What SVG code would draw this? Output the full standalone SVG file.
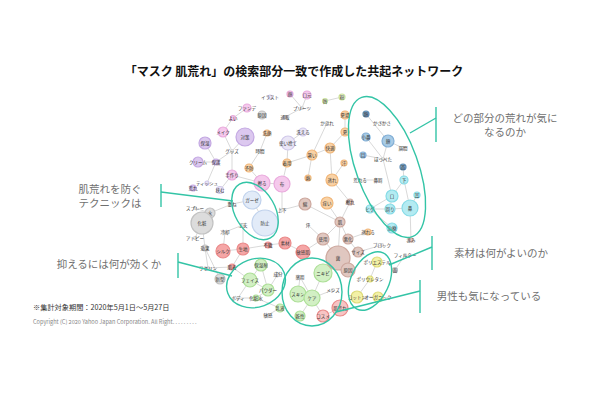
<svg xmlns="http://www.w3.org/2000/svg" width="600" height="400" viewBox="0 0 600 400">
<style>
.bg{fill:#fff}
.e line{stroke:#c8c8c8;stroke-width:0.7}
.n circle{stroke-width:1.2}
.pk{fill:#f5c9ec;stroke:#e9a9dc}
.pu{fill:#dcc8ef;stroke:#c3a8e2}
.lv{fill:#eae6f6;stroke:#d0c8ea}
.or{fill:#f9d2a6;stroke:#f1b77a}
.bl{fill:#a8cbe6;stroke:#82afd6}
.db{fill:#7fa6c8;stroke:#5f8db5}
.tl{fill:#b3ebf2;stroke:#86dbe6}
.lb{fill:#e2ebf8;stroke:#c0d2ec}
.gy{fill:#dcdcdc;stroke:#c2c2c2}
.rd{fill:#f5a6a6;stroke:#ea8a8a}
.br{fill:#e0c7c0;stroke:#cda89e}
.gn{fill:#d2f0c4;stroke:#addf97}
.yl{fill:#f3f1a6;stroke:#dedb78}
.lg{fill:#e9f3cf;stroke:#cde3a0}
.tx{fill:#eeeeee;stroke:#d4d4d4}
.n text{font-family:"Noto Sans CJK JP","Noto Sans",sans-serif;font-size:4.5px;fill:#333;text-anchor:middle}
.ann{font-family:"Noto Sans CJK JP","Noto Sans",sans-serif;font-size:10.5px;fill:#707070}
.tt{font-family:"Noto Sans CJK JP","Noto Sans",sans-serif;font-size:12px;font-weight:bold;fill:#111}
.ft{font-family:"Noto Sans CJK JP","Noto Sans",sans-serif;fill:#333}
.hl{fill:none;stroke:#33c4a6;stroke-width:1.4}
</style>
<rect class="bg" width="600" height="400"/>
<text class="tt" x="294" y="76" text-anchor="middle">「マスク 肌荒れ」の検索部分一致で作成した共起ネットワーク</text>

<g id="connectors" class="e">
<line x1="247" y1="108" x2="233" y2="118"/><line x1="233" y1="118" x2="223" y2="132"/>
<line x1="223" y1="132" x2="232" y2="151"/><line x1="245" y1="137" x2="232" y2="151"/>
<line x1="232" y1="151" x2="216" y2="162"/><line x1="216" y1="162" x2="198" y2="162"/>
<line x1="205" y1="143" x2="216" y2="162"/><line x1="232" y1="151" x2="232" y2="175"/>
<line x1="216" y1="162" x2="207" y2="183"/><line x1="232" y1="175" x2="262" y2="183"/>
<line x1="232" y1="175" x2="220" y2="190"/><line x1="262" y1="183" x2="282" y2="184"/>
<line x1="249" y1="168" x2="260" y2="151"/><line x1="260" y1="151" x2="267" y2="133"/>
<line x1="282" y1="184" x2="287" y2="163"/><line x1="262" y1="183" x2="249" y2="168"/>
<line x1="290" y1="94" x2="302" y2="108"/><line x1="307" y1="95" x2="302" y2="108"/>
<line x1="302" y1="108" x2="285" y2="117"/><line x1="325" y1="101" x2="342" y2="97"/>
<line x1="327" y1="123" x2="312" y2="155"/><line x1="345" y1="115" x2="345" y2="132"/>
<line x1="345" y1="132" x2="330" y2="148"/><line x1="330" y1="148" x2="312" y2="155"/>
<line x1="312" y1="155" x2="287" y2="163"/><line x1="287" y1="163" x2="288" y2="143"/>
<line x1="288" y1="143" x2="303" y2="132"/><line x1="312" y1="155" x2="308" y2="178"/>
<line x1="330" y1="148" x2="332" y2="180"/><line x1="332" y1="180" x2="344" y2="163"/>
<line x1="332" y1="180" x2="350" y2="202"/>
<line x1="366" y1="114" x2="388" y2="141"/><line x1="366" y1="137" x2="383" y2="159"/>
<line x1="388" y1="141" x2="403" y2="148"/><line x1="388" y1="141" x2="383" y2="159"/>
<line x1="363" y1="155" x2="383" y2="159"/><line x1="383" y1="159" x2="392" y2="196"/>
<line x1="403" y1="167" x2="404" y2="180"/><line x1="404" y1="180" x2="392" y2="196"/>
<line x1="404" y1="180" x2="410" y2="208"/><line x1="392" y1="196" x2="390" y2="209"/>
<line x1="392" y1="196" x2="370" y2="209"/><line x1="370" y1="209" x2="390" y2="209"/>
<line x1="390" y1="209" x2="410" y2="208"/><line x1="417" y1="195" x2="410" y2="208"/>
<line x1="410" y1="208" x2="411" y2="240"/><line x1="370" y1="209" x2="392" y2="228"/>
<line x1="360" y1="180" x2="378" y2="180"/>
<line x1="195" y1="208" x2="210" y2="213"/><line x1="210" y1="213" x2="202" y2="223"/>
<line x1="210" y1="213" x2="232" y2="204"/><line x1="232" y1="204" x2="252" y2="200"/>
<line x1="202" y1="223" x2="195" y2="238"/><line x1="202" y1="223" x2="205" y2="248"/>
<line x1="205" y1="248" x2="208" y2="268"/><line x1="205" y1="248" x2="220" y2="279"/>
<line x1="225" y1="232" x2="223" y2="251"/><line x1="225" y1="232" x2="243" y2="225"/>
<line x1="223" y1="251" x2="243" y2="249"/><line x1="243" y1="249" x2="243" y2="225"/>
<line x1="243" y1="249" x2="268" y2="245"/><line x1="268" y1="245" x2="285" y2="243"/>
<line x1="243" y1="249" x2="232" y2="267"/><line x1="232" y1="267" x2="208" y2="268"/>
<line x1="252" y1="200" x2="265" y2="223"/>
<line x1="261" y1="265" x2="250" y2="280"/><line x1="261" y1="265" x2="268" y2="290"/>
<line x1="278" y1="274" x2="268" y2="290"/><line x1="250" y1="280" x2="268" y2="290"/>
<line x1="250" y1="280" x2="238" y2="298"/><line x1="256" y1="298" x2="268" y2="290"/>
<line x1="256" y1="298" x2="238" y2="298"/><line x1="256" y1="298" x2="280" y2="308"/>
<line x1="280" y1="308" x2="268" y2="315"/><line x1="232" y1="267" x2="250" y2="280"/>
<line x1="300" y1="277" x2="298" y2="294"/><line x1="300" y1="277" x2="312" y2="298"/>
<line x1="323" y1="273" x2="312" y2="298"/><line x1="298" y1="294" x2="312" y2="298"/>
<line x1="312" y1="298" x2="333" y2="290"/><line x1="312" y1="298" x2="300" y2="316"/>
<line x1="312" y1="298" x2="323" y2="316"/><line x1="323" y1="316" x2="340" y2="308"/>
<line x1="282" y1="210" x2="305" y2="204"/><line x1="305" y1="204" x2="340" y2="222"/>
<line x1="340" y1="222" x2="350" y2="202"/><line x1="340" y1="222" x2="323" y2="239"/>
<line x1="340" y1="222" x2="338" y2="258"/><line x1="340" y1="222" x2="348" y2="239"/>
<line x1="348" y1="239" x2="358" y2="252"/><line x1="338" y1="258" x2="348" y2="270"/>
<line x1="358" y1="252" x2="382" y2="245"/><line x1="348" y1="239" x2="368" y2="232"/>
<line x1="323" y1="239" x2="338" y2="258"/><line x1="323" y1="239" x2="303" y2="252"/>
<line x1="285" y1="243" x2="303" y2="252"/><line x1="327" y1="203" x2="340" y2="222"/>
<line x1="282" y1="184" x2="282" y2="210"/><line x1="338" y1="258" x2="323" y2="273"/>
<line x1="377" y1="262" x2="370" y2="279"/><line x1="370" y1="279" x2="357" y2="297"/>
<line x1="357" y1="297" x2="378" y2="297"/><line x1="405" y1="255" x2="395" y2="270"/>
<line x1="308" y1="225" x2="323" y2="239"/>
</g>

<g id="nodes" class="n">
<g id="n1"><circle class="lv" cx="270" cy="97" r="2"/><text x="270" y="98.5">イラスト</text></g>
<g id="n2"><circle class="pk" cx="247" cy="108" r="4"/><text x="247" y="109.5">ファンデ</text></g>
<g id="n3"><circle class="gy" cx="262" cy="115" r="4"/><text x="262" y="116.5">原因</text></g>
<g id="n4"><circle class="pk" cx="233" cy="118" r="2.5"/><text x="233" y="119.5">よい</text></g>
<g id="n5"><circle class="pk" cx="223" cy="132" r="5"/><text x="223" y="133.5">メイク</text></g>
<g id="n6"><circle class="pu" cx="245" cy="137" r="9"/><text x="245" y="138.5">対策</text></g>
<g id="n7"><circle class="or" cx="267" cy="133" r="3"/><text x="267" y="134.5">洗顔</text></g>
<g id="n8"><circle class="pu" cx="205" cy="143" r="6"/><text x="205" y="144.5">保湿</text></g>
<g id="n9"><circle class="tx" cx="232" cy="151" r="1.5"/><text x="232" y="152.5">グッズ</text></g>
<g id="n10"><circle class="tx" cx="260" cy="151" r="1.5"/><text x="260" y="152.5">時間</text></g>
<g id="n11"><circle class="pu" cx="198" cy="162" r="5"/><text x="198" y="163.5">クリーム</text></g>
<g id="n12"><circle class="pu" cx="216" cy="162" r="3"/><text x="216" y="163.5">保護</text></g>
<g id="n13"><circle class="or" cx="249" cy="168" r="4"/><text x="249" y="169.5">予防</text></g>
<g id="n14"><circle class="pk" cx="232" cy="175" r="5"/><text x="232" y="176.5">手作り</text></g>
<g id="n15"><circle class="pk" cx="262" cy="183" r="8"/><text x="262" y="184.5">擦る</text></g>
<g id="n16"><circle class="pk" cx="282" cy="184" r="8"/><text x="282" y="185.5">布</text></g>
<g id="n17"><circle class="lv" cx="207" cy="183" r="2"/><text x="207" y="184.5">ティッシュ</text></g>
<g id="n18"><circle class="pu" cx="193" cy="188" r="3"/><text x="193" y="189.5">荒れ</text></g>
<g id="n19"><circle class="lv" cx="220" cy="190" r="3.5"/><text x="220" y="191.5">挟む</text></g>
<g id="n20"><circle class="pk" cx="290" cy="94" r="3"/><text x="290" y="95.5">顔</text></g>
<g id="n21"><circle class="pk" cx="307" cy="95" r="4"/><text x="307" y="96.5">口元</text></g>
<g id="n22"><circle class="tx" cx="302" cy="108" r="1.5"/><text x="302" y="109.5">プリーツ</text></g>
<g id="n23"><circle class="tx" cx="285" cy="117" r="1.5"/><text x="285" y="118.5">通販</text></g>
<g id="n24"><circle class="lg" cx="325" cy="101" r="2.5"/><text x="325" y="102.5">唇</text></g>
<g id="n25"><circle class="lg" cx="342" cy="97" r="3"/><text x="342" y="98.5">粉</text></g>
<g id="n26"><circle class="tx" cx="327" cy="123" r="1.5"/><text x="327" y="124.5">かぶれ</text></g>
<g id="n27"><circle class="or" cx="345" cy="115" r="4"/><text x="345" y="116.5">夏場</text></g>
<g id="n28"><circle class="lv" cx="303" cy="132" r="4"/><text x="303" y="133.5">洗える</text></g>
<g id="n29"><circle class="or" cx="345" cy="132" r="4"/><text x="345" y="133.5">夏</text></g>
<g id="n30"><circle class="lv" cx="288" cy="143" r="7"/><text x="288" y="144.5">使い捨て</text></g>
<g id="n31"><circle class="or" cx="330" cy="148" r="5"/><text x="330" y="149.5">快適</text></g>
<g id="n32"><circle class="or" cx="312" cy="155" r="5"/><text x="312" y="156.5">暑い</text></g>
<g id="n33"><circle class="or" cx="287" cy="163" r="4"/><text x="287" y="164.5">着用</text></g>
<g id="n34"><circle class="or" cx="344" cy="163" r="3"/><text x="344" y="164.5">汗</text></g>
<g id="n35"><circle class="or" cx="308" cy="178" r="3"/><text x="308" y="179.5">熱</text></g>
<g id="n36"><circle class="or" cx="332" cy="180" r="6"/><text x="332" y="181.5">蒸れ</text></g>
<g id="n37"><circle class="db" cx="366" cy="114" r="3"/><text x="366" y="115.5">額</text></g>
<g id="n38"><circle class="tx" cx="382" cy="123" r="1.5"/><text x="382" y="124.5">かさかさ</text></g>
<g id="n39"><circle class="bl" cx="366" cy="137" r="4"/><text x="366" y="138.5">小鼻</text></g>
<g id="n40"><circle class="bl" cx="388" cy="141" r="6"/><text x="388" y="142.5">頬</text></g>
<g id="n41"><circle class="tx" cx="403" cy="148" r="1.5"/><text x="403" y="149.5">眉間</text></g>
<g id="n42"><circle class="bl" cx="363" cy="155" r="3"/><text x="363" y="156.5">目</text></g>
<g id="n43"><circle class="tx" cx="383" cy="159" r="1.5"/><text x="383" y="160.5">ほっぺた</text></g>
<g id="n44"><circle class="db" cx="403" cy="167" r="3"/><text x="403" y="168.5">首</text></g>
<g id="n45"><circle class="tx" cx="360" cy="180" r="1.5"/><text x="360" y="181.5">荒れる</text></g>
<g id="n46"><circle class="tx" cx="378" cy="180" r="1.5"/><text x="378" y="181.5">鼻周</text></g>
<g id="n47"><circle class="tl" cx="404" cy="180" r="4"/><text x="404" y="181.5">下</text></g>
<g id="n48"><circle class="tl" cx="392" cy="196" r="6"/><text x="392" y="197.5">口</text></g>
<g id="n49"><circle class="tl" cx="417" cy="195" r="3"/><text x="417" y="196.5">耳</text></g>
<g id="n50"><circle class="tl" cx="370" cy="209" r="4"/><text x="370" y="210.5">ヒゲ</text></g>
<g id="n51"><circle class="tl" cx="390" cy="209" r="5"/><text x="390" y="210.5">周り</text></g>
<g id="n52"><circle class="tl" cx="410" cy="208" r="8"/><text x="410" y="209.5">鼻</text></g>
<g id="n53"><circle class="tl" cx="392" cy="228" r="5"/><text x="392" y="229.5">治療</text></g>
<g id="n54"><circle class="br" cx="411" cy="240" r="2"/><text x="411" y="241.5">赤み</text></g>
<g id="n55"><circle class="lb" cx="252" cy="200" r="9"/><text x="252" y="201.5">ガーゼ</text></g>
<g id="n56"><circle class="lb" cx="265" cy="223" r="13"/><text x="265" y="224.5">防止</text></g>
<g id="n57"><circle class="tx" cx="232" cy="204" r="1.5"/><text x="232" y="205.5">重ね</text></g>
<g id="n58"><circle class="tx" cx="195" cy="208" r="1.5"/><text x="195" y="209.5">スプレー</text></g>
<g id="n59"><circle class="gy" cx="210" cy="213" r="5"/><text x="210" y="214.5">水</text></g>
<g id="n60"><circle class="gy" cx="202" cy="223" r="11"/><text x="202" y="224.5">化粧</text></g>
<g id="n61"><circle class="tx" cx="243" cy="225" r="1.5"/><text x="243" y="226.5">工夫</text></g>
<g id="n62"><circle class="tx" cx="225" cy="232" r="1.5"/><text x="225" y="233.5">冷却</text></g>
<g id="n63"><circle class="tx" cx="195" cy="238" r="1.5"/><text x="195" y="239.5">アトピー</text></g>
<g id="n64"><circle class="gy" cx="205" cy="248" r="3"/><text x="205" y="249.5">効果</text></g>
<g id="n65"><circle class="rd" cx="223" cy="251" r="7"/><text x="223" y="252.5">シルク</text></g>
<g id="n66"><circle class="rd" cx="243" cy="249" r="6"/><text x="243" y="250.5">生地</text></g>
<g id="n67"><circle class="rd" cx="268" cy="245" r="3"/><text x="268" y="246.5">不織</text></g>
<g id="n68"><circle class="rd" cx="285" cy="243" r="6"/><text x="285" y="244.5">素材</text></g>
<g id="n69"><circle class="tx" cx="208" cy="268" r="1.5"/><text x="208" y="269.5">ワセリン</text></g>
<g id="n70"><circle class="rd" cx="232" cy="267" r="3"/><text x="232" y="268.5">肌着</text></g>
<g id="n71"><circle class="gy" cx="220" cy="279" r="5"/><text x="220" y="280.5">新型</text></g>
<g id="n72"><circle class="gn" cx="261" cy="265" r="6"/><text x="261" y="266.5">保湿剤</text></g>
<g id="n73"><circle class="tx" cx="278" cy="274" r="1.5"/><text x="278" y="275.5">成分</text></g>
<g id="n74"><circle class="gn" cx="250" cy="280" r="7"/><text x="250" y="281.5">フェイス</text></g>
<g id="n75"><circle class="gn" cx="268" cy="290" r="6"/><text x="268" y="291.5">パウダー</text></g>
<g id="n76"><circle class="tx" cx="238" cy="298" r="1.5"/><text x="238" y="299.5">ボディ</text></g>
<g id="n77"><circle class="gn" cx="256" cy="298" r="3"/><text x="256" y="299.5">化粧水</text></g>
<g id="n78"><circle class="gn" cx="280" cy="308" r="4"/><text x="280" y="309.5">乳液</text></g>
<g id="n79"><circle class="tx" cx="268" cy="315" r="1.5"/><text x="268" y="316.5">敏感</text></g>
<g id="n80"><circle class="tx" cx="300" cy="277" r="1.5"/><text x="300" y="278.5">薬用</text></g>
<g id="n81"><circle class="gn" cx="323" cy="273" r="9"/><text x="323" y="274.5">ニキビ</text></g>
<g id="n82"><circle class="gn" cx="298" cy="294" r="8"/><text x="298" y="295.5">スキン</text></g>
<g id="n83"><circle class="gn" cx="312" cy="298" r="8"/><text x="312" y="299.5">ケア</text></g>
<g id="n84"><circle class="tx" cx="333" cy="290" r="1.5"/><text x="333" y="291.5">メンズ</text></g>
<g id="n85"><circle class="gn" cx="300" cy="316" r="5"/><text x="300" y="317.5">乾性</text></g>
<g id="n86"><circle class="rd" cx="323" cy="316" r="6" style="fill:#f8c4c4"/><text x="323" y="317.5">コスメ</text></g>
<g id="n87"><circle class="rd" cx="340" cy="308" r="8" style="fill:#f8c4c4"/><text x="340" y="309.5">肌荒れ</text></g>
<g id="n88"><circle class="tx" cx="282" cy="210" r="1.5"/><text x="282" y="211.5">上下</text></g>
<g id="n89"><circle class="br" cx="305" cy="204" r="6"/><text x="305" y="205.5">綿</text></g>
<g id="n90"><circle class="or" cx="327" cy="203" r="6"/><text x="327" y="204.5">痒い</text></g>
<g id="n91"><circle class="br" cx="350" cy="202" r="3"/><text x="350" y="203.5">擦れ</text></g>
<g id="n92"><circle class="br" cx="340" cy="222" r="5"/><text x="340" y="223.5">肌</text></g>
<g id="n93"><circle class="tx" cx="308" cy="225" r="1.5"/><text x="308" y="226.5">汗</text></g>
<g id="n94"><circle class="or" cx="368" cy="232" r="3"/><text x="368" y="233.5">蒸れる</text></g>
<g id="n95"><circle class="br" cx="323" cy="239" r="6"/><text x="323" y="240.5">使用</text></g>
<g id="n96"><circle class="br" cx="348" cy="239" r="5"/><text x="348" y="240.5">悪化</text></g>
<g id="n97"><circle class="rd" cx="303" cy="252" r="7"/><text x="303" y="253.5">敏感肌</text></g>
<g id="n98"><circle class="br" cx="338" cy="258" r="12"/><text x="338" y="259.5">菌</text></g>
<g id="n99"><circle class="br" cx="358" cy="252" r="5"/><text x="358" y="253.5">サイズ</text></g>
<g id="n100"><circle class="br" cx="348" cy="270" r="7"/><text x="348" y="271.5">原因</text></g>
<g id="n101"><circle class="tx" cx="382" cy="245" r="1.5"/><text x="382" y="246.5">ブロック</text></g>
<g id="n102"><circle class="tx" cx="405" cy="255" r="1.5"/><text x="405" y="256.5">フィルター</text></g>
<g id="n103"><circle class="gy" cx="395" cy="270" r="2.5"/><text x="395" y="271.5">面</text></g>
<g id="n104"><circle class="yl" cx="377" cy="262" r="5"/><text x="377" y="263.5">ポリエステル</text></g>
<g id="n105"><circle class="yl" cx="370" cy="279" r="3"/><text x="370" y="280.5">ポリウレタン</text></g>
<g id="n106"><circle class="yl" cx="357" cy="297" r="6"/><text x="357" y="298.5">コットン</text></g>
<g id="n107"><circle class="yl" cx="378" cy="297" r="5"/><text x="378" y="298.5">オーガニック</text></g>
</g>

<g id="highlights">
<ellipse class="hl" cx="387" cy="167" rx="31" ry="74" transform="rotate(-20 387 167)"/>
<ellipse class="hl" cx="255" cy="211" rx="20" ry="31" transform="rotate(-30 255 211)"/>
<ellipse class="hl" cx="256" cy="283" rx="30" ry="24" transform="rotate(-20 256 283)"/>
<ellipse class="hl" cx="312" cy="292" rx="30" ry="34"/>
<ellipse class="hl" cx="370" cy="281" rx="19" ry="31" transform="rotate(25 370 281)"/>
<line class="hl" x1="436" y1="107" x2="436" y2="142"/><line class="hl" x1="436" y1="118" x2="410" y2="133"/>
<line class="hl" x1="161" y1="184" x2="161" y2="207"/><line class="hl" x1="161" y1="192" x2="233" y2="201"/>
<line class="hl" x1="178" y1="253" x2="178" y2="278"/><line class="hl" x1="178" y1="262" x2="232" y2="276"/>
<line class="hl" x1="432" y1="236" x2="432" y2="270"/><line class="hl" x1="432" y1="247" x2="389" y2="265"/>
<line class="hl" x1="420" y1="280" x2="420" y2="313"/><line class="hl" x1="420" y1="291" x2="336" y2="312"/>
</g>

<g id="annotations">
<text class="ann" x="505" y="122" text-anchor="middle">どの部分の荒れが気に</text>
<text class="ann" x="505" y="136" text-anchor="middle">なるのか</text>
<text class="ann" x="110" y="193" text-anchor="middle">肌荒れを防ぐ</text>
<text class="ann" x="110" y="207" text-anchor="middle">テクニックは</text>
<text class="ann" x="109" y="268" text-anchor="middle">抑えるには何が効くか</text>
<text class="ann" x="501" y="257" text-anchor="middle">素材は何がよいのか</text>
<text class="ann" x="489" y="300" text-anchor="middle">男性も気になっている</text>
<text class="ft" x="33" y="310" font-size="7.2">※集計対象期間：2020年5月1日～5月27日</text>
<text class="ft" x="33" y="323.5" font-size="5.6" style="fill:#888">Copyright (C) 2020 Yahoo Japan Corporation. All Right. . . . . . . . .</text>
</g>
</svg>
